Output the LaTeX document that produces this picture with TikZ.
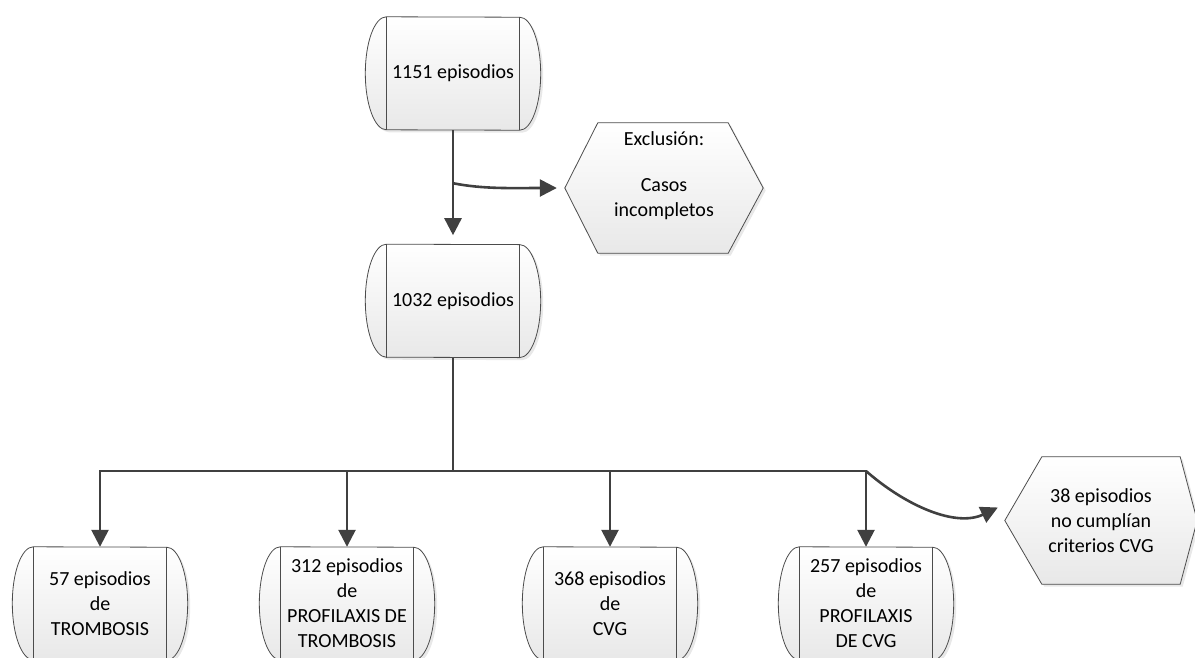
\documentclass[tikz,border=0pt]{standalone}
\usepackage{fontspec}
\setmainfont{Carlito}
\usepackage{tikz}
\usetikzlibrary{arrows.meta,positioning,calc,backgrounds,shadows}

\begin{document}
\begin{tikzpicture}[
  x=1pt,y=-1pt,
  font=\fontsize{20}{25}\selectfont,
  epbox/.style={rectangle,minimum width=133pt,minimum height=113pt,
                text centered,align=center,inner sep=2pt},
  hexbox/.style={rectangle,minimum height=130pt,align=center,inner sep=2pt},
  outline/.style={draw=black!70,line width=0.8pt,top color=white,bottom color=black!9,
                  drop shadow={opacity=0.18,shadow xshift=2.5pt,shadow yshift=-2.5pt}},
  sideline/.style={draw=black!70,line width=0.8pt},
  link/.style={black!75,line width=2.6pt},
  arr/.style={-{Triangle[length=17pt,width=17pt]},black!75,line width=2.6pt}
]
  \useasboundingbox (0,0) rectangle (1195,657);

  \node[epbox](A) at (453,73.5){1151 episodios};
  \node[epbox,below=114pt of A](B){1032 episodios};
  \node[hexbox,minimum width=198pt](excl) at (664,188){Exclusión:\\[21pt]Casos\\incompletos\\[3pt]\mbox{}};

  \node[epbox](C1) at (100,603.5){57 episodios\\de\\TROMBOSIS};
  \node[epbox](C2) at (347,603.5){312 episodios\\de\\PROFILAXIS DE\\TROMBOSIS};
  \node[epbox](C3) at (610,603.5){368 episodios\\de\\CVG};
  \node[epbox](C4) at (866,603.5){257 episodios\\de\\PROFILAXIS\\DE CVG};
  \node[hexbox,minimum width=192pt,minimum height=127pt](nocvg) at (1101,520.5){38 episodios\\no cumplían\\criterios CVG};

  % shapes behind the texts
  \begin{scope}[on background layer]
    \clip (0,0) rectangle (1195,657);
    \foreach \n in {A,B,C1,C2,C3,C4}{
      \draw[outline](\n.north west) arc[start angle=90,end angle=270,x radius=21pt,y radius=56.5pt]
        -- (\n.south east) arc[start angle=-90,end angle=90,x radius=21pt,y radius=56.5pt] -- cycle;
      \draw[sideline](\n.north west) -- (\n.south west) (\n.north east) -- (\n.south east);
    }
    \draw[outline](excl.west) -- ([xshift=33pt]excl.north west) -- ([xshift=-35pt]excl.north east)
      -- (excl.east) -- ([xshift=-35pt]excl.south east) -- ([xshift=33pt]excl.south west) -- cycle;
    \draw[outline](nocvg.west) -- ([xshift=37pt]nocvg.north west) -- ([xshift=-17pt]nocvg.north east)
      -- (nocvg.east) -- ([xshift=-17pt]nocvg.south east) -- ([xshift=37pt]nocvg.south west) -- cycle;
  \end{scope}

  \coordinate (split1) at ($(A.south)!0.465!(B.north)$);
  \coordinate (hub) at (453,471);
  \coordinate (split2) at (C4.north |- hub);

  \draw[arr,shorten >=9pt](A)--(B);
  \draw[arr](split1) .. controls +(30pt,-6pt) and +(-45pt,0pt) .. ([xshift=-8pt]excl.west);
  \draw[link](B)--(hub);
  \foreach \n in {C1,C2,C3,C4}
    \draw[arr](hub) -| (\n);
  \draw[arr](split2) .. controls +(40pt,-35pt) and +(-42pt,-20pt) .. ([xshift=-7pt,yshift=13pt]nocvg.west);
\end{tikzpicture}
\end{document}
